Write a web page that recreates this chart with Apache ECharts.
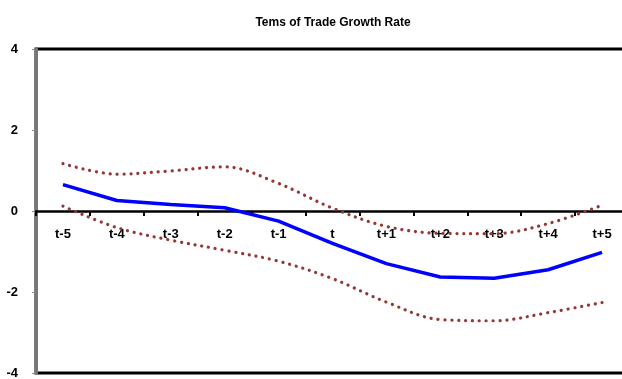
<!DOCTYPE html>
<html>
<head>
<meta charset="utf-8">
<script src="https://cdn.jsdelivr.net/npm/echarts@6/dist/echarts.min.js"></script>
<style>html,body{margin:0;padding:0;background:#fff;}#c{width:622px;height:379px;}</style>
</head>
<body>
<div id="c"></div>
<script>
var categories = ['t-5','t-4','t-3','t-2','t-1','t','t+1','t+2','t+3','t+4','t+5'];
var growth = [0.65, 0.26, 0.16, 0.08, -0.25, -0.80, -1.30, -1.63, -1.66, -1.45, -1.02];
var upperBand = [1.17, 0.91, 0.99, 1.09, 0.68, 0.07, -0.38, -0.55, -0.56, -0.31, 0.14];
var lowerBand = [0.12, -0.41, -0.72, -0.97, -1.24, -1.67, -2.25, -2.68, -2.71, -2.51, -2.26];
var yTicks = [-4, -2, 0, 2, 4];

var font = 'Liberation Sans';
var chart = echarts.init(document.getElementById('c'), null, {renderer: 'canvas'});
var dotted = {color: '#953735', width: 3.2, type: [0.1, 6.8], cap: 'round'};
chart.setOption({
  animation: false,
  backgroundColor: '#fff',
  title: {
    text: 'Tems of Trade Growth Rate',
    left: 328, top: 12, textAlign: 'center',
    textStyle: {fontFamily: font, fontWeight: 'bold', fontSize: 12, color: '#000'}
  },
  grid: {left: 36, top: 49, width: 593, height: 324, outerBoundsMode: 'none', containLabel: false, show: true, borderColor: '#000', borderWidth: 3, backgroundColor: 'transparent'},
  xAxis: {
    type: 'category', data: categories, boundaryGap: true,
    axisLine: {onZero: true, lineStyle: {color: '#000', width: 2.5}},
    axisTick: {show: true, length: 5, inside: false, lineStyle: {color: '#000', width: 2}},
    axisLabel: {margin: -145, fontFamily: font, fontWeight: 'bold', fontSize: 13, color: '#000'},
    splitLine: {show: false}
  },
  yAxis: {
    type: 'value', min: yTicks[0], max: yTicks[yTicks.length - 1], interval: 2,
    axisLine: {show: true, lineStyle: {color: '#777', width: 3}},
    axisTick: {show: true, length: 4, lineStyle: {color: '#888', width: 1}},
    axisLabel: {margin: 18, fontFamily: font, fontWeight: 'bold', fontSize: 13, color: '#000'},
    splitLine: {show: false}
  },
  series: [
    {type: 'line', data: upperBand, smooth: 0.35, symbol: 'none', lineStyle: dotted, z: 2},
    {type: 'line', data: lowerBand, smooth: 0.35, symbol: 'none', lineStyle: dotted, z: 2},
    {type: 'line', data: growth, smooth: false, symbol: 'none', lineStyle: {color: '#0000ff', width: 3.5}, z: 3}
  ]
});
</script>
</body>
</html>
